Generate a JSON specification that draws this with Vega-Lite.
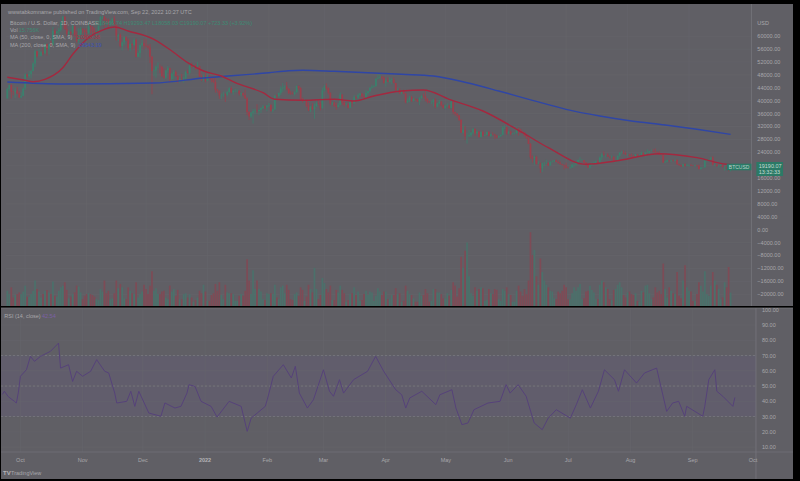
{
  "$schema": "https://vega.github.io/schema/vega-lite/v6.json",
  "background": "#000000",
  "padding": {"left": 0, "top": 3, "right": 8, "bottom": 5},
  "spacing": 0,
  "config": {
    "font": "Liberation Sans",
    "view": {"stroke": null, "fill": "#605f65"},
    "axis": {"disable": true}
  },
  "datasets": {
    "one": [{}],
    "pticks": [{"p":-20000},{"p":-16000},{"p":-12000},{"p":-8000},{"p":-4000},{"p":0},{"p":4000},{"p":8000},{"p":12000},{"p":16000},{"p":20000},{"p":24000},{"p":28000},{"p":32000},{"p":36000},{"p":40000},{"p":44000},{"p":48000},{"p":52000},{"p":56000},{"p":60000}],
    "rticks": [{"r":10},{"r":20},{"r":30},{"r":40},{"r":50},{"r":60},{"r":70},{"r":80},{"r":90},{"r":100}],
    "months": [{"m":"2021-10-01"},{"m":"2021-11-01"},{"m":"2021-12-01"},{"m":"2022-01-01"},{"m":"2022-02-01"},{"m":"2022-03-01"},{"m":"2022-04-01"},{"m":"2022-05-01"},{"m":"2022-06-01"},{"m":"2022-07-01"},{"m":"2022-08-01"},{"m":"2022-09-01"}],
    "monthLabels": [{"m":"2021-10-01"},{"m":"2021-11-01"},{"m":"2021-12-01"},{"m":"2022-02-01"},{"m":"2022-03-01"},{"m":"2022-04-01"},{"m":"2022-05-01"},{"m":"2022-06-01"},{"m":"2022-07-01"},{"m":"2022-08-01"},{"m":"2022-09-01"},{"m":"2022-10-01"}],
    "candles": [
      {"d":"2021-09-22","o":40700,"h":44000,"l":40600,"c":43600,"v":18},
      {"d":"2021-09-23","o":43600,"h":44900,"l":43100,"c":44900,"v":14},
      {"d":"2021-09-24","o":44900,"h":45100,"l":40700,"c":42800,"v":22},
      {"d":"2021-09-25","o":42800,"h":42900,"l":41700,"c":42700,"v":10},
      {"d":"2021-09-26","o":42700,"h":43900,"l":40800,"c":43200,"v":13},
      {"d":"2021-09-27","o":43200,"h":44300,"l":42100,"c":42200,"v":14},
      {"d":"2021-09-28","o":42200,"h":42800,"l":40900,"c":41000,"v":16},
      {"d":"2021-09-29","o":41000,"h":42600,"l":40800,"c":41500,"v":14},
      {"d":"2021-09-30","o":41500,"h":44100,"l":41400,"c":43800,"v":17},
      {"d":"2021-10-01","o":43800,"h":48500,"l":43300,"c":48100,"v":24},
      {"d":"2021-10-02","o":48100,"h":48300,"l":47100,"c":47600,"v":11},
      {"d":"2021-10-03","o":47600,"h":49200,"l":47100,"c":48200,"v":11},
      {"d":"2021-10-04","o":48200,"h":49500,"l":46900,"c":49200,"v":14},
      {"d":"2021-10-05","o":49200,"h":51900,"l":49100,"c":51500,"v":18},
      {"d":"2021-10-06","o":51500,"h":55800,"l":50400,"c":55300,"v":30},
      {"d":"2021-10-07","o":55300,"h":55400,"l":53400,"c":53800,"v":20},
      {"d":"2021-10-08","o":53800,"h":56100,"l":53700,"c":53900,"v":17},
      {"d":"2021-10-09","o":53900,"h":55400,"l":53700,"c":55000,"v":10},
      {"d":"2021-10-10","o":55000,"h":56500,"l":54100,"c":54700,"v":14},
      {"d":"2021-10-11","o":54700,"h":57800,"l":54400,"c":57500,"v":18},
      {"d":"2021-10-12","o":57500,"h":57700,"l":54000,"c":56000,"v":19},
      {"d":"2021-10-13","o":56000,"h":57600,"l":54300,"c":57400,"v":16},
      {"d":"2021-10-14","o":57400,"h":58500,"l":56900,"c":57300,"v":14},
      {"d":"2021-10-15","o":57300,"h":62900,"l":56900,"c":61700,"v":29},
      {"d":"2021-10-16","o":61700,"h":62300,"l":60200,"c":60900,"v":12},
      {"d":"2021-10-17","o":60900,"h":61700,"l":58900,"c":61500,"v":11},
      {"d":"2021-10-18","o":61500,"h":62600,"l":60100,"c":62000,"v":18},
      {"d":"2021-10-19","o":62000,"h":64500,"l":61400,"c":64300,"v":22},
      {"d":"2021-10-20","o":64300,"h":66300,"l":63600,"c":66000,"v":24},
      {"d":"2021-10-21","o":66000,"h":66300,"l":62000,"c":62200,"v":28},
      {"d":"2021-10-22","o":62200,"h":63700,"l":60000,"c":60700,"v":19},
      {"d":"2021-10-23","o":60700,"h":61700,"l":59800,"c":61300,"v":9},
      {"d":"2021-10-24","o":61300,"h":61500,"l":59600,"c":60900,"v":11},
      {"d":"2021-10-25","o":60900,"h":63700,"l":60700,"c":63100,"v":14},
      {"d":"2021-10-26","o":63100,"h":63300,"l":59800,"c":60300,"v":16},
      {"d":"2021-10-27","o":60300,"h":61500,"l":58000,"c":58500,"v":24},
      {"d":"2021-10-28","o":58500,"h":62500,"l":57800,"c":60600,"v":23},
      {"d":"2021-10-29","o":60600,"h":62900,"l":60200,"c":62300,"v":16},
      {"d":"2021-10-30","o":62300,"h":62400,"l":60800,"c":61900,"v":8},
      {"d":"2021-10-31","o":61900,"h":62400,"l":59500,"c":61300,"v":12},
      {"d":"2021-11-01","o":61300,"h":62400,"l":59400,"c":61000,"v":14},
      {"d":"2021-11-02","o":61000,"h":64300,"l":60700,"c":63200,"v":15},
      {"d":"2021-11-03","o":63200,"h":63500,"l":60900,"c":62900,"v":14},
      {"d":"2021-11-04","o":62900,"h":63100,"l":60700,"c":61400,"v":13},
      {"d":"2021-11-05","o":61400,"h":62600,"l":60800,"c":61000,"v":11},
      {"d":"2021-11-06","o":61000,"h":61600,"l":60100,"c":61500,"v":8},
      {"d":"2021-11-07","o":61500,"h":63300,"l":61400,"c":63300,"v":7},
      {"d":"2021-11-08","o":63300,"h":66300,"l":63100,"c":66000,"v":20},
      {"d":"2021-11-09","o":66000,"h":66300,"l":65300,"c":66000,"v":17},
      {"d":"2021-11-10","o":66000,"h":66300,"l":62800,"c":64900,"v":30},
      {"d":"2021-11-11","o":64900,"h":65600,"l":64200,"c":64800,"v":15},
      {"d":"2021-11-12","o":64800,"h":65400,"l":62300,"c":64200,"v":18},
      {"d":"2021-11-13","o":64200,"h":64900,"l":63300,"c":64400,"v":8},
      {"d":"2021-11-14","o":64400,"h":65500,"l":63600,"c":65500,"v":9},
      {"d":"2021-11-15","o":65500,"h":66300,"l":63400,"c":63600,"v":15},
      {"d":"2021-11-16","o":63600,"h":63600,"l":58600,"c":60100,"v":30},
      {"d":"2021-11-17","o":60100,"h":60800,"l":58400,"c":60400,"v":21},
      {"d":"2021-11-18","o":60400,"h":60900,"l":56500,"c":56900,"v":26},
      {"d":"2021-11-19","o":56900,"h":58300,"l":55600,"c":58100,"v":22},
      {"d":"2021-11-20","o":58100,"h":59800,"l":57400,"c":59700,"v":9},
      {"d":"2021-11-21","o":59700,"h":60000,"l":58500,"c":58700,"v":8},
      {"d":"2021-11-22","o":58700,"h":59300,"l":55600,"c":56300,"v":22},
      {"d":"2021-11-23","o":56300,"h":58000,"l":55300,"c":57600,"v":18},
      {"d":"2021-11-24","o":57600,"h":57800,"l":55900,"c":57200,"v":15},
      {"d":"2021-11-25","o":57200,"h":59400,"l":57000,"c":58900,"v":14},
      {"d":"2021-11-26","o":58900,"h":59200,"l":53500,"c":53600,"v":28},
      {"d":"2021-11-27","o":53600,"h":55300,"l":53600,"c":54800,"v":10},
      {"d":"2021-11-28","o":54800,"h":57400,"l":53300,"c":57300,"v":14},
      {"d":"2021-11-29","o":57300,"h":58900,"l":56700,"c":57800,"v":17},
      {"d":"2021-11-30","o":57800,"h":59200,"l":55900,"c":57000,"v":25},
      {"d":"2021-12-01","o":57000,"h":59100,"l":56500,"c":56900,"v":20},
      {"d":"2021-12-02","o":56900,"h":57400,"l":55800,"c":56500,"v":14},
      {"d":"2021-12-03","o":56500,"h":57600,"l":51700,"c":53600,"v":24},
      {"d":"2021-12-04","o":53600,"h":53900,"l":42000,"c":49200,"v":41},
      {"d":"2021-12-05","o":49200,"h":49700,"l":47700,"c":49400,"v":18},
      {"d":"2021-12-06","o":49400,"h":50900,"l":47100,"c":50600,"v":21},
      {"d":"2021-12-07","o":50600,"h":51900,"l":50000,"c":50600,"v":14},
      {"d":"2021-12-08","o":50600,"h":51200,"l":48600,"c":50500,"v":14},
      {"d":"2021-12-09","o":50500,"h":50800,"l":47300,"c":47600,"v":17},
      {"d":"2021-12-10","o":47600,"h":50100,"l":46900,"c":47100,"v":18},
      {"d":"2021-12-11","o":47100,"h":49500,"l":46700,"c":49400,"v":10},
      {"d":"2021-12-12","o":49400,"h":50800,"l":48600,"c":50100,"v":8},
      {"d":"2021-12-13","o":50100,"h":50200,"l":45700,"c":46700,"v":24},
      {"d":"2021-12-14","o":46700,"h":48700,"l":46300,"c":48400,"v":17},
      {"d":"2021-12-15","o":48400,"h":49500,"l":46600,"c":48900,"v":20},
      {"d":"2021-12-16","o":48900,"h":49400,"l":47500,"c":47600,"v":12},
      {"d":"2021-12-17","o":47600,"h":47900,"l":45500,"c":46200,"v":19},
      {"d":"2021-12-18","o":46200,"h":47300,"l":45600,"c":46800,"v":8},
      {"d":"2021-12-19","o":46800,"h":48300,"l":46400,"c":46700,"v":8},
      {"d":"2021-12-20","o":46700,"h":47500,"l":45600,"c":46900,"v":14},
      {"d":"2021-12-21","o":46900,"h":49300,"l":46700,"c":49000,"v":15},
      {"d":"2021-12-22","o":49000,"h":49600,"l":48500,"c":48600,"v":10},
      {"d":"2021-12-23","o":48600,"h":51400,"l":48100,"c":50800,"v":14},
      {"d":"2021-12-24","o":50800,"h":51800,"l":50200,"c":50400,"v":10},
      {"d":"2021-12-25","o":50400,"h":51200,"l":50200,"c":50800,"v":5},
      {"d":"2021-12-26","o":50800,"h":51300,"l":49500,"c":50600,"v":7},
      {"d":"2021-12-27","o":50600,"h":52100,"l":50500,"c":50700,"v":10},
      {"d":"2021-12-28","o":50700,"h":50700,"l":47400,"c":47500,"v":18},
      {"d":"2021-12-29","o":47500,"h":48100,"l":46100,"c":46500,"v":15},
      {"d":"2021-12-30","o":46500,"h":47900,"l":46000,"c":47100,"v":25},
      {"d":"2021-12-31","o":47100,"h":48500,"l":45700,"c":46200,"v":17},
      {"d":"2022-01-01","o":46200,"h":47900,"l":46200,"c":47700,"v":6},
      {"d":"2022-01-02","o":47700,"h":47900,"l":46700,"c":47300,"v":6},
      {"d":"2022-01-03","o":47300,"h":47500,"l":45700,"c":46400,"v":13},
      {"d":"2022-01-04","o":46400,"h":47500,"l":45500,"c":45800,"v":15},
      {"d":"2022-01-05","o":45800,"h":47100,"l":42500,"c":43400,"v":26},
      {"d":"2022-01-06","o":43400,"h":43700,"l":42500,"c":43100,"v":18},
      {"d":"2022-01-07","o":43100,"h":43100,"l":40600,"c":41600,"v":28},
      {"d":"2022-01-08","o":41600,"h":42300,"l":40500,"c":41700,"v":13},
      {"d":"2022-01-09","o":41700,"h":42800,"l":41200,"c":41900,"v":8},
      {"d":"2022-01-10","o":41900,"h":42200,"l":39600,"c":41800,"v":25},
      {"d":"2022-01-11","o":41800,"h":43000,"l":41300,"c":42700,"v":16},
      {"d":"2022-01-12","o":42700,"h":44200,"l":42500,"c":43900,"v":15},
      {"d":"2022-01-13","o":43900,"h":44400,"l":42300,"c":42600,"v":15},
      {"d":"2022-01-14","o":42600,"h":43400,"l":41800,"c":43100,"v":14},
      {"d":"2022-01-15","o":43100,"h":43700,"l":42600,"c":43100,"v":6},
      {"d":"2022-01-16","o":43100,"h":43500,"l":42600,"c":43100,"v":6},
      {"d":"2022-01-17","o":43100,"h":43200,"l":41600,"c":42200,"v":12},
      {"d":"2022-01-18","o":42200,"h":42600,"l":41300,"c":42400,"v":14},
      {"d":"2022-01-19","o":42400,"h":42500,"l":41300,"c":41700,"v":12},
      {"d":"2022-01-20","o":41700,"h":43500,"l":40600,"c":40700,"v":18},
      {"d":"2022-01-21","o":40700,"h":41100,"l":35500,"c":36500,"v":55},
      {"d":"2022-01-22","o":36500,"h":36800,"l":34000,"c":35100,"v":30},
      {"d":"2022-01-23","o":35100,"h":36500,"l":34600,"c":36300,"v":14},
      {"d":"2022-01-24","o":36300,"h":37500,"l":32900,"c":36700,"v":42},
      {"d":"2022-01-25","o":36700,"h":37500,"l":35700,"c":36900,"v":20},
      {"d":"2022-01-26","o":36900,"h":38900,"l":36300,"c":36800,"v":30},
      {"d":"2022-01-27","o":36800,"h":37200,"l":35500,"c":37200,"v":20},
      {"d":"2022-01-28","o":37200,"h":38000,"l":36200,"c":37700,"v":17},
      {"d":"2022-01-29","o":37700,"h":38700,"l":37400,"c":38200,"v":8},
      {"d":"2022-01-30","o":38200,"h":38400,"l":37400,"c":37900,"v":7},
      {"d":"2022-01-31","o":37900,"h":38700,"l":36700,"c":38500,"v":15},
      {"d":"2022-02-01","o":38500,"h":39300,"l":38100,"c":38700,"v":14},
      {"d":"2022-02-02","o":38700,"h":38900,"l":36600,"c":36900,"v":15},
      {"d":"2022-02-03","o":36900,"h":37400,"l":36300,"c":37300,"v":14},
      {"d":"2022-02-04","o":37300,"h":41700,"l":37100,"c":41600,"v":25},
      {"d":"2022-02-05","o":41600,"h":41900,"l":40900,"c":41400,"v":10},
      {"d":"2022-02-06","o":41400,"h":42600,"l":41100,"c":42400,"v":8},
      {"d":"2022-02-07","o":42400,"h":44500,"l":41700,"c":43800,"v":22},
      {"d":"2022-02-08","o":43800,"h":45500,"l":42700,"c":44100,"v":24},
      {"d":"2022-02-09","o":44100,"h":44800,"l":43200,"c":44400,"v":15},
      {"d":"2022-02-10","o":44400,"h":45800,"l":43200,"c":43600,"v":25},
      {"d":"2022-02-11","o":43600,"h":43900,"l":42000,"c":42400,"v":19},
      {"d":"2022-02-12","o":42400,"h":43000,"l":41800,"c":42200,"v":8},
      {"d":"2022-02-13","o":42200,"h":42800,"l":41900,"c":42100,"v":7},
      {"d":"2022-02-14","o":42100,"h":42900,"l":41600,"c":42600,"v":14},
      {"d":"2022-02-15","o":42600,"h":44700,"l":42500,"c":44600,"v":16},
      {"d":"2022-02-16","o":44600,"h":44600,"l":43300,"c":43900,"v":12},
      {"d":"2022-02-17","o":43900,"h":44200,"l":40100,"c":40600,"v":22},
      {"d":"2022-02-18","o":40600,"h":40900,"l":39500,"c":40000,"v":19},
      {"d":"2022-02-19","o":40000,"h":40500,"l":39700,"c":40100,"v":6},
      {"d":"2022-02-20","o":40100,"h":40200,"l":38000,"c":38400,"v":11},
      {"d":"2022-02-21","o":38400,"h":39500,"l":36800,"c":37000,"v":25},
      {"d":"2022-02-22","o":37000,"h":38400,"l":36400,"c":38200,"v":20},
      {"d":"2022-02-23","o":38200,"h":39200,"l":37100,"c":37300,"v":16},
      {"d":"2022-02-24","o":37300,"h":39100,"l":34400,"c":38300,"v":45},
      {"d":"2022-02-25","o":38300,"h":39700,"l":38000,"c":39200,"v":20},
      {"d":"2022-02-26","o":39200,"h":40100,"l":38600,"c":39100,"v":8},
      {"d":"2022-02-27","o":39100,"h":39800,"l":37000,"c":37700,"v":13},
      {"d":"2022-02-28","o":37700,"h":44000,"l":37500,"c":43200,"v":33},
      {"d":"2022-03-01","o":43200,"h":44900,"l":42800,"c":44400,"v":27},
      {"d":"2022-03-02","o":44400,"h":45400,"l":43300,"c":43900,"v":20},
      {"d":"2022-03-03","o":43900,"h":44100,"l":41900,"c":42500,"v":16},
      {"d":"2022-03-04","o":42500,"h":42500,"l":38600,"c":39100,"v":24},
      {"d":"2022-03-05","o":39100,"h":39600,"l":38600,"c":39400,"v":7},
      {"d":"2022-03-06","o":39400,"h":39700,"l":38100,"c":38400,"v":7},
      {"d":"2022-03-07","o":38400,"h":39400,"l":37200,"c":38000,"v":19},
      {"d":"2022-03-08","o":38000,"h":39300,"l":37900,"c":38700,"v":16},
      {"d":"2022-03-09","o":38700,"h":42600,"l":38700,"c":41900,"v":24},
      {"d":"2022-03-10","o":41900,"h":42000,"l":38600,"c":39400,"v":19},
      {"d":"2022-03-11","o":39400,"h":40300,"l":38200,"c":38700,"v":15},
      {"d":"2022-03-12","o":38700,"h":39300,"l":38700,"c":38800,"v":5},
      {"d":"2022-03-13","o":38800,"h":39300,"l":37600,"c":37800,"v":7},
      {"d":"2022-03-14","o":37800,"h":39900,"l":37600,"c":39700,"v":14},
      {"d":"2022-03-15","o":39700,"h":39900,"l":38100,"c":39300,"v":15},
      {"d":"2022-03-16","o":39300,"h":41700,"l":38900,"c":41100,"v":22},
      {"d":"2022-03-17","o":41100,"h":41400,"l":40500,"c":40900,"v":13},
      {"d":"2022-03-18","o":40900,"h":42300,"l":40200,"c":41800,"v":17},
      {"d":"2022-03-19","o":41800,"h":42400,"l":41500,"c":42200,"v":6},
      {"d":"2022-03-20","o":42200,"h":42300,"l":40900,"c":41300,"v":7},
      {"d":"2022-03-21","o":41300,"h":42000,"l":40500,"c":41000,"v":14},
      {"d":"2022-03-22","o":41000,"h":43300,"l":40900,"c":42400,"v":18},
      {"d":"2022-03-23","o":42400,"h":43000,"l":41800,"c":42900,"v":13},
      {"d":"2022-03-24","o":42900,"h":44200,"l":42600,"c":44000,"v":17},
      {"d":"2022-03-25","o":44000,"h":45000,"l":43700,"c":44300,"v":16},
      {"d":"2022-03-26","o":44300,"h":44800,"l":44100,"c":44500,"v":6},
      {"d":"2022-03-27","o":44500,"h":46900,"l":44400,"c":46800,"v":12},
      {"d":"2022-03-28","o":46800,"h":48200,"l":46700,"c":47100,"v":21},
      {"d":"2022-03-29","o":47100,"h":48100,"l":46900,"c":47400,"v":17},
      {"d":"2022-03-30","o":47400,"h":47700,"l":46600,"c":47100,"v":13},
      {"d":"2022-03-31","o":47100,"h":47600,"l":45300,"c":45500,"v":17},
      {"d":"2022-04-01","o":45500,"h":46700,"l":44300,"c":46300,"v":17},
      {"d":"2022-04-02","o":46300,"h":47200,"l":45800,"c":45800,"v":8},
      {"d":"2022-04-03","o":45800,"h":47400,"l":45600,"c":46400,"v":8},
      {"d":"2022-04-04","o":46400,"h":46900,"l":45100,"c":46600,"v":13},
      {"d":"2022-04-05","o":46600,"h":47200,"l":45400,"c":45500,"v":13},
      {"d":"2022-04-06","o":45500,"h":45500,"l":43100,"c":43200,"v":21},
      {"d":"2022-04-07","o":43200,"h":43900,"l":42800,"c":43400,"v":14},
      {"d":"2022-04-08","o":43400,"h":43900,"l":42100,"c":42300,"v":15},
      {"d":"2022-04-09","o":42300,"h":42800,"l":42100,"c":42800,"v":5},
      {"d":"2022-04-10","o":42800,"h":43400,"l":42100,"c":42200,"v":6},
      {"d":"2022-04-11","o":42200,"h":42400,"l":39200,"c":39500,"v":24},
      {"d":"2022-04-12","o":39500,"h":40700,"l":39300,"c":40100,"v":18},
      {"d":"2022-04-13","o":40100,"h":41500,"l":39600,"c":41100,"v":14},
      {"d":"2022-04-14","o":41100,"h":41500,"l":39600,"c":39900,"v":13},
      {"d":"2022-04-15","o":39900,"h":40800,"l":39800,"c":40500,"v":9},
      {"d":"2022-04-16","o":40500,"h":40700,"l":40000,"c":40400,"v":5},
      {"d":"2022-04-17","o":40400,"h":40600,"l":39600,"c":39700,"v":5},
      {"d":"2022-04-18","o":39700,"h":41100,"l":38600,"c":40800,"v":16},
      {"d":"2022-04-19","o":40800,"h":41700,"l":40600,"c":41500,"v":12},
      {"d":"2022-04-20","o":41500,"h":42200,"l":40900,"c":41400,"v":13},
      {"d":"2022-04-21","o":41400,"h":42900,"l":39800,"c":40500,"v":20},
      {"d":"2022-04-22","o":40500,"h":40800,"l":39200,"c":39700,"v":15},
      {"d":"2022-04-23","o":39700,"h":39900,"l":39300,"c":39500,"v":5},
      {"d":"2022-04-24","o":39500,"h":39900,"l":39000,"c":39500,"v":6},
      {"d":"2022-04-25","o":39500,"h":40600,"l":38200,"c":40400,"v":20},
      {"d":"2022-04-26","o":40400,"h":40800,"l":37700,"c":38100,"v":20},
      {"d":"2022-04-27","o":38100,"h":39400,"l":37900,"c":39200,"v":16},
      {"d":"2022-04-28","o":39200,"h":40300,"l":38900,"c":39700,"v":16},
      {"d":"2022-04-29","o":39700,"h":39900,"l":38200,"c":38600,"v":14},
      {"d":"2022-04-30","o":38600,"h":38800,"l":37600,"c":37700,"v":9},
      {"d":"2022-05-01","o":37700,"h":38700,"l":37400,"c":38500,"v":9},
      {"d":"2022-05-02","o":38500,"h":39200,"l":38100,"c":38500,"v":15},
      {"d":"2022-05-03","o":38500,"h":38600,"l":37500,"c":37700,"v":12},
      {"d":"2022-05-04","o":37700,"h":40000,"l":37700,"c":39700,"v":19},
      {"d":"2022-05-05","o":39700,"h":39800,"l":35800,"c":36500,"v":28},
      {"d":"2022-05-06","o":36500,"h":36600,"l":35300,"c":36000,"v":24},
      {"d":"2022-05-07","o":36000,"h":36100,"l":34800,"c":35500,"v":11},
      {"d":"2022-05-08","o":35500,"h":35500,"l":33700,"c":34000,"v":21},
      {"d":"2022-05-09","o":34000,"h":34300,"l":30000,"c":30100,"v":58},
      {"d":"2022-05-10","o":30100,"h":32700,"l":29800,"c":31000,"v":45},
      {"d":"2022-05-11","o":31000,"h":32100,"l":27800,"c":29000,"v":65},
      {"d":"2022-05-12","o":29000,"h":30100,"l":26700,"c":29000,"v":75},
      {"d":"2022-05-13","o":29000,"h":30900,"l":28700,"c":29300,"v":35},
      {"d":"2022-05-14","o":29300,"h":30300,"l":28700,"c":30100,"v":15},
      {"d":"2022-05-15","o":30100,"h":31400,"l":29500,"c":31300,"v":12},
      {"d":"2022-05-16","o":31300,"h":31300,"l":29100,"c":29900,"v":22},
      {"d":"2022-05-17","o":29900,"h":30700,"l":29500,"c":30400,"v":18},
      {"d":"2022-05-18","o":30400,"h":30600,"l":28700,"c":28700,"v":20},
      {"d":"2022-05-19","o":28700,"h":30500,"l":28700,"c":30300,"v":22},
      {"d":"2022-05-20","o":30300,"h":30700,"l":28800,"c":29200,"v":21},
      {"d":"2022-05-21","o":29200,"h":29600,"l":29000,"c":29400,"v":6},
      {"d":"2022-05-22","o":29400,"h":30400,"l":29300,"c":30300,"v":7},
      {"d":"2022-05-23","o":30300,"h":30600,"l":28900,"c":29100,"v":20},
      {"d":"2022-05-24","o":29100,"h":29800,"l":28700,"c":29600,"v":15},
      {"d":"2022-05-25","o":29600,"h":30200,"l":29300,"c":29500,"v":14},
      {"d":"2022-05-26","o":29500,"h":29800,"l":28100,"c":29200,"v":20},
      {"d":"2022-05-27","o":29200,"h":29400,"l":28300,"c":28600,"v":19},
      {"d":"2022-05-28","o":28600,"h":29200,"l":28500,"c":29000,"v":8},
      {"d":"2022-05-29","o":29000,"h":29500,"l":28800,"c":29400,"v":6},
      {"d":"2022-05-30","o":29400,"h":32200,"l":29300,"c":31700,"v":20},
      {"d":"2022-05-31","o":31700,"h":32400,"l":31200,"c":31800,"v":18},
      {"d":"2022-06-01","o":31800,"h":31900,"l":29400,"c":29800,"v":22},
      {"d":"2022-06-02","o":29800,"h":30700,"l":29600,"c":30400,"v":14},
      {"d":"2022-06-03","o":30400,"h":30700,"l":29300,"c":29700,"v":13},
      {"d":"2022-06-04","o":29700,"h":29900,"l":29500,"c":29900,"v":5},
      {"d":"2022-06-05","o":29900,"h":30200,"l":29500,"c":29900,"v":5},
      {"d":"2022-06-06","o":29900,"h":31700,"l":29900,"c":31400,"v":18},
      {"d":"2022-06-07","o":31400,"h":31600,"l":29200,"c":31100,"v":24},
      {"d":"2022-06-08","o":31100,"h":31300,"l":29900,"c":30200,"v":17},
      {"d":"2022-06-09","o":30200,"h":30700,"l":30000,"c":30100,"v":12},
      {"d":"2022-06-10","o":30100,"h":30300,"l":28900,"c":29100,"v":20},
      {"d":"2022-06-11","o":29100,"h":29400,"l":28200,"c":28400,"v":14},
      {"d":"2022-06-12","o":28400,"h":28600,"l":26600,"c":26600,"v":30},
      {"d":"2022-06-13","o":26600,"h":26900,"l":21900,"c":22500,"v":87},
      {"d":"2022-06-14","o":22500,"h":23000,"l":20800,"c":22100,"v":60},
      {"d":"2022-06-15","o":22100,"h":22800,"l":20100,"c":22600,"v":66},
      {"d":"2022-06-16","o":22600,"h":22900,"l":20200,"c":20400,"v":35},
      {"d":"2022-06-17","o":20400,"h":21300,"l":20300,"c":20500,"v":25},
      {"d":"2022-06-18","o":20500,"h":20800,"l":17600,"c":19000,"v":56},
      {"d":"2022-06-19","o":19000,"h":20800,"l":17900,"c":20600,"v":40},
      {"d":"2022-06-20","o":20600,"h":21000,"l":19700,"c":20600,"v":30},
      {"d":"2022-06-21","o":20600,"h":21700,"l":20400,"c":20700,"v":25},
      {"d":"2022-06-22","o":20700,"h":20900,"l":19800,"c":19900,"v":22},
      {"d":"2022-06-23","o":19900,"h":21200,"l":19900,"c":21100,"v":18},
      {"d":"2022-06-24","o":21100,"h":21500,"l":20800,"c":21200,"v":17},
      {"d":"2022-06-25","o":21200,"h":21600,"l":20900,"c":21500,"v":9},
      {"d":"2022-06-26","o":21500,"h":21800,"l":21000,"c":21000,"v":8},
      {"d":"2022-06-27","o":21000,"h":21500,"l":20500,"c":20700,"v":17},
      {"d":"2022-06-28","o":20700,"h":21200,"l":20200,"c":20300,"v":15},
      {"d":"2022-06-29","o":20300,"h":20400,"l":19900,"c":20100,"v":18},
      {"d":"2022-06-30","o":20100,"h":20200,"l":18700,"c":19900,"v":25},
      {"d":"2022-07-01","o":19900,"h":20800,"l":19000,"c":19300,"v":22},
      {"d":"2022-07-02","o":19300,"h":19400,"l":19000,"c":19200,"v":8},
      {"d":"2022-07-03","o":19200,"h":19600,"l":18800,"c":19300,"v":8},
      {"d":"2022-07-04","o":19300,"h":20300,"l":19100,"c":20200,"v":15},
      {"d":"2022-07-05","o":20200,"h":20700,"l":19300,"c":20200,"v":22},
      {"d":"2022-07-06","o":20200,"h":20700,"l":19800,"c":20600,"v":18},
      {"d":"2022-07-07","o":20600,"h":21800,"l":20300,"c":21600,"v":22},
      {"d":"2022-07-08","o":21600,"h":22500,"l":21200,"c":21600,"v":26},
      {"d":"2022-07-09","o":21600,"h":21900,"l":21400,"c":21600,"v":8},
      {"d":"2022-07-10","o":21600,"h":21600,"l":20700,"c":20800,"v":9},
      {"d":"2022-07-11","o":20800,"h":20900,"l":19900,"c":20000,"v":17},
      {"d":"2022-07-12","o":20000,"h":20100,"l":19200,"c":19300,"v":18},
      {"d":"2022-07-13","o":19300,"h":20300,"l":18900,"c":20200,"v":24},
      {"d":"2022-07-14","o":20200,"h":20900,"l":19700,"c":20600,"v":19},
      {"d":"2022-07-15","o":20600,"h":21200,"l":20400,"c":20800,"v":16},
      {"d":"2022-07-16","o":20800,"h":21500,"l":20500,"c":21200,"v":8},
      {"d":"2022-07-17","o":21200,"h":21600,"l":20800,"c":20800,"v":8},
      {"d":"2022-07-18","o":20800,"h":22700,"l":20800,"c":22400,"v":25},
      {"d":"2022-07-19","o":22400,"h":23800,"l":21600,"c":23400,"v":30},
      {"d":"2022-07-20","o":23400,"h":24300,"l":23000,"c":23200,"v":28},
      {"d":"2022-07-21","o":23200,"h":23400,"l":22300,"c":23200,"v":22},
      {"d":"2022-07-22","o":23200,"h":23700,"l":22600,"c":22700,"v":20},
      {"d":"2022-07-23","o":22700,"h":22800,"l":22000,"c":22500,"v":8},
      {"d":"2022-07-24","o":22500,"h":23000,"l":22300,"c":22600,"v":7},
      {"d":"2022-07-25","o":22600,"h":22700,"l":21300,"c":21300,"v":19},
      {"d":"2022-07-26","o":21300,"h":21400,"l":20800,"c":21300,"v":20},
      {"d":"2022-07-27","o":21300,"h":23100,"l":21100,"c":22900,"v":25},
      {"d":"2022-07-28","o":22900,"h":24100,"l":22600,"c":23800,"v":28},
      {"d":"2022-07-29","o":23800,"h":24400,"l":23500,"c":23800,"v":22},
      {"d":"2022-07-30","o":23800,"h":24600,"l":23600,"c":23600,"v":13},
      {"d":"2022-07-31","o":23600,"h":24200,"l":23300,"c":23300,"v":10},
      {"d":"2022-08-01","o":23300,"h":23500,"l":22900,"c":23300,"v":16},
      {"d":"2022-08-02","o":23300,"h":23400,"l":22700,"c":22900,"v":17},
      {"d":"2022-08-03","o":22900,"h":23600,"l":22700,"c":22800,"v":14},
      {"d":"2022-08-04","o":22800,"h":23200,"l":22500,"c":22600,"v":13},
      {"d":"2022-08-05","o":22600,"h":23400,"l":22600,"c":23300,"v":15},
      {"d":"2022-08-06","o":23300,"h":23400,"l":22900,"c":23000,"v":6},
      {"d":"2022-08-07","o":23000,"h":23400,"l":22900,"c":23200,"v":5},
      {"d":"2022-08-08","o":23200,"h":24200,"l":23100,"c":23800,"v":18},
      {"d":"2022-08-09","o":23800,"h":23900,"l":22900,"c":23200,"v":16},
      {"d":"2022-08-10","o":23200,"h":24200,"l":22700,"c":23900,"v":24},
      {"d":"2022-08-11","o":23900,"h":24900,"l":23900,"c":23900,"v":25},
      {"d":"2022-08-12","o":23900,"h":24400,"l":23600,"c":24400,"v":15},
      {"d":"2022-08-13","o":24400,"h":24900,"l":24300,"c":24400,"v":8},
      {"d":"2022-08-14","o":24400,"h":25000,"l":24000,"c":24300,"v":10},
      {"d":"2022-08-15","o":24300,"h":25200,"l":23800,"c":24100,"v":22},
      {"d":"2022-08-16","o":24100,"h":24200,"l":23700,"c":23900,"v":16},
      {"d":"2022-08-17","o":23900,"h":24400,"l":23200,"c":23300,"v":18},
      {"d":"2022-08-18","o":23300,"h":23600,"l":23100,"c":23200,"v":14},
      {"d":"2022-08-19","o":23200,"h":23200,"l":20800,"c":20800,"v":50},
      {"d":"2022-08-20","o":20800,"h":21400,"l":20800,"c":21100,"v":20},
      {"d":"2022-08-21","o":21100,"h":21700,"l":21000,"c":21500,"v":10},
      {"d":"2022-08-22","o":21500,"h":21500,"l":20900,"c":21400,"v":22},
      {"d":"2022-08-23","o":21400,"h":21600,"l":20900,"c":21500,"v":18},
      {"d":"2022-08-24","o":21500,"h":21800,"l":21200,"c":21400,"v":15},
      {"d":"2022-08-25","o":21400,"h":21800,"l":21300,"c":21600,"v":14},
      {"d":"2022-08-26","o":21600,"h":21900,"l":20100,"c":20300,"v":40},
      {"d":"2022-08-27","o":20300,"h":20400,"l":19900,"c":20000,"v":12},
      {"d":"2022-08-28","o":20000,"h":20100,"l":19600,"c":19600,"v":9},
      {"d":"2022-08-29","o":19600,"h":20400,"l":19600,"c":20300,"v":30},
      {"d":"2022-08-30","o":20300,"h":20600,"l":19600,"c":19800,"v":48},
      {"d":"2022-08-31","o":19800,"h":20500,"l":19800,"c":20000,"v":22},
      {"d":"2022-09-01","o":20000,"h":20200,"l":19600,"c":20100,"v":18},
      {"d":"2022-09-02","o":20100,"h":20400,"l":19800,"c":19900,"v":17},
      {"d":"2022-09-03","o":19900,"h":20000,"l":19700,"c":19800,"v":6},
      {"d":"2022-09-04","o":19800,"h":20000,"l":19600,"c":20000,"v":6},
      {"d":"2022-09-05","o":20000,"h":20000,"l":19600,"c":19800,"v":14},
      {"d":"2022-09-06","o":19800,"h":20200,"l":18700,"c":18800,"v":28},
      {"d":"2022-09-07","o":18800,"h":19400,"l":18600,"c":19300,"v":24},
      {"d":"2022-09-08","o":19300,"h":19400,"l":19000,"c":19300,"v":17},
      {"d":"2022-09-09","o":19300,"h":21500,"l":19300,"c":21400,"v":41},
      {"d":"2022-09-10","o":21400,"h":21800,"l":21100,"c":21600,"v":14},
      {"d":"2022-09-11","o":21600,"h":21900,"l":21400,"c":21800,"v":12},
      {"d":"2022-09-12","o":21800,"h":22500,"l":21600,"c":22400,"v":24},
      {"d":"2022-09-13","o":22400,"h":22800,"l":19900,"c":20200,"v":40},
      {"d":"2022-09-14","o":20200,"h":20500,"l":19700,"c":20200,"v":30},
      {"d":"2022-09-15","o":20200,"h":20300,"l":19600,"c":19700,"v":25},
      {"d":"2022-09-16","o":19700,"h":19900,"l":19300,"c":19800,"v":20},
      {"d":"2022-09-17","o":19800,"h":20200,"l":19700,"c":20100,"v":8},
      {"d":"2022-09-18","o":20100,"h":20100,"l":19400,"c":19400,"v":10},
      {"d":"2022-09-19","o":19400,"h":19700,"l":18300,"c":19500,"v":28},
      {"d":"2022-09-20","o":19500,"h":19600,"l":18800,"c":18900,"v":22},
      {"d":"2022-09-21","o":18900,"h":19900,"l":18100,"c":18466.74,"v":46},
      {"d":"2022-09-22","o":18466.74,"h":19293.47,"l":18058.03,"c":19190.07,"v":15.756}
    ],
    "ma50": [
      {"d":"2021-09-22","v":47290},{"d":"2021-10-01","v":46330},{"d":"2021-10-05","v":45890},
      {"d":"2021-10-11","v":46640},{"d":"2021-10-20","v":50230},{"d":"2021-10-25","v":54390},
      {"d":"2021-11-02","v":59540},{"d":"2021-11-10","v":62140},{"d":"2021-11-15","v":62850},
      {"d":"2021-11-22","v":61610},{"d":"2021-12-05","v":59040},{"d":"2021-12-14","v":55410},
      {"d":"2021-12-22","v":51780},{"d":"2021-12-30","v":49210},{"d":"2022-01-08","v":47660},
      {"d":"2022-01-15","v":45580},{"d":"2022-01-29","v":42480},{"d":"2022-02-04","v":40430},
      {"d":"2022-02-18","v":40120},{"d":"2022-03-06","v":40430},{"d":"2022-03-16","v":39910},
      {"d":"2022-03-26","v":41460},{"d":"2022-04-09","v":43010},{"d":"2022-04-20","v":43320},
      {"d":"2022-05-03","v":40430},{"d":"2022-05-20","v":36810},{"d":"2022-06-09","v":30080},
      {"d":"2022-06-22","v":25430},{"d":"2022-07-11","v":20280},{"d":"2022-07-26","v":21300},
      {"d":"2022-08-17","v":23570},{"d":"2022-09-05","v":22330},{"d":"2022-09-20","v":20280},
      {"d":"2022-09-22","v":20200.38}
    ],
    "ma200": [
      {"d":"2021-09-22","v":45790},{"d":"2021-10-21","v":45180},{"d":"2021-12-05","v":45490},
      {"d":"2021-12-30","v":47040},{"d":"2022-02-01","v":48680},{"d":"2022-02-11","v":49300},
      {"d":"2022-02-18","v":49430},{"d":"2022-03-06","v":49120},{"d":"2022-04-09","v":48190},
      {"d":"2022-04-25","v":47660},{"d":"2022-05-12","v":45580},{"d":"2022-05-28","v":43010},
      {"d":"2022-06-14","v":40120},{"d":"2022-07-01","v":37330},{"d":"2022-07-18","v":35260},
      {"d":"2022-08-03","v":33710},{"d":"2022-08-20","v":32470},{"d":"2022-09-05","v":31130},
      {"d":"2022-09-22","v":29543.19}
    ],
    "rsi": [
      {"d":"2021-09-22","r":44.5},{"d":"2021-09-23","r":46.6},{"d":"2021-09-25","r":43},
      {"d":"2021-09-28","r":40},{"d":"2021-09-29","r":38.9},{"d":"2021-09-30","r":46},
      {"d":"2021-10-01","r":56.4},{"d":"2021-10-04","r":60.7},{"d":"2021-10-06","r":69.5},
      {"d":"2021-10-08","r":66.2},{"d":"2021-10-11","r":69.5},{"d":"2021-10-16","r":72.8},
      {"d":"2021-10-20","r":78.2},{"d":"2021-10-21","r":61.8},{"d":"2021-10-25","r":64},
      {"d":"2021-10-27","r":53},{"d":"2021-10-29","r":59.7},{"d":"2021-11-01","r":56.4},
      {"d":"2021-11-05","r":59.7},{"d":"2021-11-08","r":67.3},{"d":"2021-11-12","r":59.7},
      {"d":"2021-11-14","r":58.6},{"d":"2021-11-17","r":45.4},{"d":"2021-11-18","r":38.9},
      {"d":"2021-11-23","r":40},{"d":"2021-11-25","r":46.6},{"d":"2021-11-27","r":36.7},
      {"d":"2021-11-29","r":46.6},{"d":"2021-12-04","r":32.3},{"d":"2021-12-10","r":30.2},
      {"d":"2021-12-12","r":38.9},{"d":"2021-12-17","r":35.6},{"d":"2021-12-20","r":36.7},
      {"d":"2021-12-23","r":45.4},{"d":"2021-12-24","r":50.9},{"d":"2021-12-27","r":49.8},
      {"d":"2021-12-30","r":40},{"d":"2022-01-04","r":36.7},{"d":"2022-01-07","r":29.7},
      {"d":"2022-01-13","r":40},{"d":"2022-01-19","r":36.7},{"d":"2022-01-22","r":20.3},
      {"d":"2022-01-24","r":29},{"d":"2022-01-27","r":32.3},{"d":"2022-01-31","r":36.7},
      {"d":"2022-02-01","r":41},{"d":"2022-02-04","r":56.4},{"d":"2022-02-09","r":64},
      {"d":"2022-02-13","r":55.3},{"d":"2022-02-15","r":63},{"d":"2022-02-17","r":45.4},
      {"d":"2022-02-21","r":35.6},{"d":"2022-02-24","r":41},{"d":"2022-03-01","r":60.7},
      {"d":"2022-03-04","r":46.6},{"d":"2022-03-06","r":43.3},{"d":"2022-03-09","r":54.2},
      {"d":"2022-03-11","r":45.4},{"d":"2022-03-16","r":54.2},{"d":"2022-03-23","r":59.7},
      {"d":"2022-03-27","r":69.5},{"d":"2022-03-31","r":59.7},{"d":"2022-04-06","r":47.6},
      {"d":"2022-04-09","r":44.3},{"d":"2022-04-11","r":35.6},{"d":"2022-04-13","r":42.2},
      {"d":"2022-04-19","r":46.6},{"d":"2022-04-26","r":37.8},{"d":"2022-04-28","r":44.3},
      {"d":"2022-05-04","r":47.6},{"d":"2022-05-06","r":35.6},{"d":"2022-05-09","r":24.7},
      {"d":"2022-05-12","r":25.8},{"d":"2022-05-15","r":34.5},{"d":"2022-05-22","r":38.9},
      {"d":"2022-05-28","r":40},{"d":"2022-05-31","r":50.9},{"d":"2022-06-02","r":45.4},
      {"d":"2022-06-06","r":50.9},{"d":"2022-06-10","r":43.3},{"d":"2022-06-12","r":34.5},
      {"d":"2022-06-14","r":25.8},{"d":"2022-06-18","r":21.4},{"d":"2022-06-21","r":29},
      {"d":"2022-06-25","r":34.5},{"d":"2022-07-02","r":29},{"d":"2022-07-05","r":37.8},
      {"d":"2022-07-08","r":47.6},{"d":"2022-07-12","r":35.6},{"d":"2022-07-16","r":46.6},
      {"d":"2022-07-19","r":60.7},{"d":"2022-07-24","r":54.2},{"d":"2022-07-26","r":46.6},
      {"d":"2022-07-29","r":60.7},{"d":"2022-08-04","r":52},{"d":"2022-08-08","r":58.6},
      {"d":"2022-08-14","r":61.8},{"d":"2022-08-19","r":33.4},{"d":"2022-08-22","r":38.9},
      {"d":"2022-08-25","r":40},{"d":"2022-08-28","r":30.2},{"d":"2022-08-29","r":36.7},
      {"d":"2022-09-06","r":30.2},{"d":"2022-09-07","r":36.7},{"d":"2022-09-09","r":54.2},
      {"d":"2022-09-12","r":60.7},{"d":"2022-09-13","r":46.6},{"d":"2022-09-16","r":43.3},
      {"d":"2022-09-21","r":36.7},{"d":"2022-09-22","r":42.54}
    ],
    "levels": [{"lvl":70},{"lvl":50},{"lvl":30}]
  },
  "vconcat": [
    {
      "width": 792,
      "height": 302,
      "resolve": {"scale": {"y": "independent"}},
      "layer": [
        {
          "layer": [
            {
              "data": {"name": "pticks"},
              "mark": {"type": "rule", "color": "#67666c", "strokeWidth": 0.5},
              "encoding": {
                "x": {"datum": {"year":2021,"month":9,"date":21,"hours":8,"utc":true}, "type": "temporal",
                      "scale": {"type": "utc", "domain": [{"year":2021,"month":9,"date":21,"hours":8,"utc":true},{"year":2022,"month":10,"date":20,"hours":23,"utc":true}]}},
                "x2": {"datum": {"year":2022,"month":10,"date":2,"hours":12,"utc":true}},
                "y": {"field": "p", "type": "quantitative", "scale": {"domain": [-23659, 69984], "nice": false, "zero": false}}
              }
            },
            {
              "data": {"name": "months"},
              "mark": {"type": "rule", "color": "#67666c", "strokeWidth": 0.5},
              "encoding": {"x": {"field": "m", "type": "temporal"}}
            }
          ]
        },
        {
          "data": {"name": "candles"},
          "mark": {"type": "bar", "width": 1.7},
          "encoding": {
            "x": {"field": "d", "type": "temporal"},
            "y": {"field": "v", "type": "quantitative", "scale": {"domain": [0, 356], "nice": false, "zero": false}},
            "color": {"condition": {"test": "datum.c >= datum.o", "value": "#4b716b"}, "value": "#7e4b56"}
          }
        },
        {
          "layer": [
            {
              "data": {"name": "pticks"},
              "mark": {"type": "text", "align": "left", "baseline": "middle", "fontSize": 5.5, "color": "#a8a7ab"},
              "encoding": {
                "x": {"datum": {"year":2022,"month":10,"date":5,"hours":12,"utc":true}, "type": "temporal"},
                "y": {"field": "p", "type": "quantitative", "scale": {"domain": [-23659, 69984], "nice": false, "zero": false}},
                "text": {"field": "p", "type": "quantitative", "format": ".2f"}
              }
            },
            {
              "data": {"name": "one"},
              "mark": {"type": "text", "text": "USD", "align": "left", "baseline": "middle", "fontSize": 5.5, "color": "#a8a7ab"},
              "encoding": {
                "x": {"datum": {"year":2022,"month":10,"date":5,"hours":12,"utc":true}, "type": "temporal"},
                "y": {"datum": 64000, "type": "quantitative"}
              }
            },
            {
              "data": {"name": "candles"},
              "mark": {"type": "rule", "strokeWidth": 0.8},
              "encoding": {
                "x": {"field": "d", "type": "temporal"},
                "y": {"field": "l", "type": "quantitative"},
                "y2": {"field": "h"},
                "color": {"condition": {"test": "datum.c >= datum.o", "value": "#3b806d"}, "value": "#9a404d"}
              }
            },
            {
              "data": {"name": "candles"},
              "mark": {"type": "bar", "width": 1.8},
              "encoding": {
                "x": {"field": "d", "type": "temporal"},
                "y": {"field": "o", "type": "quantitative"},
                "y2": {"field": "c"},
                "color": {"condition": {"test": "datum.c >= datum.o", "value": "#3b806d"}, "value": "#9a404d"}
              }
            },
            {
              "data": {"name": "ma200"},
              "mark": {"type": "line", "color": "#2f46a6", "strokeWidth": 1.4, "interpolate": "monotone"},
              "encoding": {
                "x": {"field": "d", "type": "temporal"},
                "y": {"field": "v", "type": "quantitative"}
              }
            },
            {
              "data": {"name": "ma50"},
              "mark": {"type": "line", "color": "#a4283f", "strokeWidth": 1.4, "interpolate": "monotone"},
              "encoding": {
                "x": {"field": "d", "type": "temporal"},
                "y": {"field": "v", "type": "quantitative"}
              }
            },
            {
              "data": {"name": "one"},
              "mark": {"type": "rule", "color": "#77767c", "strokeWidth": 0.8},
              "encoding": {"x": {"datum": {"year":2022,"month":10,"date":2,"hours":12,"utc":true}, "type": "temporal"}}
            },
            {
              "data": {"name": "one"},
              "mark": {"type": "rect", "color": "#2b7a66"},
              "encoding": {
                "x": {"datum": {"year":2022,"month":9,"date":20,"hours":1,"utc":true}, "type": "temporal"},
                "x2": {"datum": {"year":2022,"month":10,"date":2,"hours":12,"utc":true}},
                "y": {"datum": 20465, "type": "quantitative"},
                "y2": {"datum": 18419}
              }
            },
            {
              "data": {"name": "one"},
              "mark": {"type": "rect", "color": "#2b7a66"},
              "encoding": {
                "x": {"datum": {"year":2022,"month":10,"date":5,"utc":true}, "type": "temporal"},
                "x2": {"datum": {"year":2022,"month":10,"date":18,"hours":11,"utc":true}},
                "y": {"datum": 20992, "type": "quantitative"},
                "y2": {"datum": 16651}
              }
            },
            {
              "data": {"name": "one"},
              "mark": {"type": "text", "text": "BTCUSD", "align": "center", "baseline": "middle", "fontSize": 5, "color": "#b9d2cb"},
              "encoding": {
                "x": {"datum": {"year":2022,"month":9,"date":26,"hours":7,"utc":true}, "type": "temporal"},
                "y": {"datum": 19442, "type": "quantitative"}
              }
            },
            {
              "data": {"name": "one"},
              "mark": {"type": "text", "text": "19190.07", "align": "left", "baseline": "middle", "fontSize": 5.5, "color": "#c6dbd5"},
              "encoding": {
                "x": {"datum": {"year":2022,"month":10,"date":6,"hours":4,"utc":true}, "type": "temporal"},
                "y": {"datum": 19752, "type": "quantitative"}
              }
            },
            {
              "data": {"name": "one"},
              "mark": {"type": "text", "text": "13:32:33", "align": "left", "baseline": "middle", "fontSize": 5.5, "color": "#c6dbd5"},
              "encoding": {
                "x": {"datum": {"year":2022,"month":10,"date":6,"hours":4,"utc":true}, "type": "temporal"},
                "y": {"datum": 17891, "type": "quantitative"}
              }
            },
            {
              "data": {"name": "one"},
              "mark": {"type": "text", "text": "wwwtabkomname published on TradingView.com, Sep 22, 2022 10:27 UTC", "align": "left", "baseline": "middle", "fontSize": 5.5, "color": "#a8a7ab"},
              "encoding": {
                "x": {"datum": {"year":2021,"month":9,"date":22,"hours":8,"utc":true}, "type": "temporal"},
                "y": {"datum": 67411, "type": "quantitative"}
              }
            },
            {
              "data": {"name": "one"},
              "mark": {"type": "text", "text": "Bitcoin / U.S. Dollar, 1D, COINBASE", "align": "left", "baseline": "middle", "fontSize": 5.5, "color": "#a8a7ab"},
              "encoding": {
                "x": {"datum": {"year":2021,"month":9,"date":23,"hours":8,"utc":true}, "type": "temporal"},
                "y": {"datum": 64093, "type": "quantitative"}
              }
            },
            {
              "data": {"name": "one"},
              "mark": {"type": "text", "text": "O18466.74  H19293.47  L18058.03  C19190.07  +723.33 (+3.92%)", "align": "left", "baseline": "middle", "fontSize": 5.5, "color": "#3f8a74"},
              "encoding": {
                "x": {"datum": {"year":2021,"month":11,"date":5,"hours":4,"utc":true}, "type": "temporal"},
                "y": {"datum": 64093, "type": "quantitative"}
              }
            },
            {
              "data": {"name": "one"},
              "mark": {"type": "text", "text": "Vol", "align": "left", "baseline": "middle", "fontSize": 5.5, "color": "#a8a7ab"},
              "encoding": {
                "x": {"datum": {"year":2021,"month":9,"date":23,"hours":8,"utc":true}, "type": "temporal"},
                "y": {"datum": 62015, "type": "quantitative"}
              }
            },
            {
              "data": {"name": "one"},
              "mark": {"type": "text", "text": "15.756K", "align": "left", "baseline": "middle", "fontSize": 5.5, "color": "#3f8a74"},
              "encoding": {
                "x": {"datum": {"year":2021,"month":9,"date":27,"hours":19,"utc":true}, "type": "temporal"},
                "y": {"datum": 62015, "type": "quantitative"}
              }
            },
            {
              "data": {"name": "one"},
              "mark": {"type": "text", "text": "MA (50, close, 0, SMA, 9)", "align": "left", "baseline": "middle", "fontSize": 5.5, "color": "#a8a7ab"},
              "encoding": {
                "x": {"datum": {"year":2021,"month":9,"date":23,"hours":8,"utc":true}, "type": "temporal"},
                "y": {"datum": 59659, "type": "quantitative"}
              }
            },
            {
              "data": {"name": "one"},
              "mark": {"type": "text", "text": "20200.38", "align": "left", "baseline": "middle", "fontSize": 5.5, "color": "#a83447"},
              "encoding": {
                "x": {"datum": {"year":2021,"month":10,"date":27,"hours":5,"utc":true}, "type": "temporal"},
                "y": {"datum": 59659, "type": "quantitative"}
              }
            },
            {
              "data": {"name": "one"},
              "mark": {"type": "text", "text": "MA (200, close, 0, SMA, 9)", "align": "left", "baseline": "middle", "fontSize": 5.5, "color": "#a8a7ab"},
              "encoding": {
                "x": {"datum": {"year":2021,"month":9,"date":23,"hours":8,"utc":true}, "type": "temporal"},
                "y": {"datum": 57364, "type": "quantitative"}
              }
            },
            {
              "data": {"name": "one"},
              "mark": {"type": "text", "text": "29543.19", "align": "left", "baseline": "middle", "fontSize": 5.5, "color": "#3c50b4"},
              "encoding": {
                "x": {"datum": {"year":2021,"month":10,"date":28,"hours":0,"utc":true}, "type": "temporal"},
                "y": {"datum": 57364, "type": "quantitative"}
              }
            }
          ]
        }
      ]
    },
    {
      "width": 792,
      "height": 171,
      "layer": [
        {
          "data": {"name": "one"},
          "mark": {"type": "rect", "color": "#6b4fa6", "opacity": 0.12},
          "encoding": {
            "x": {"datum": {"year":2021,"month":9,"date":21,"hours":8,"utc":true}, "type": "temporal",
                  "scale": {"type": "utc", "domain": [{"year":2021,"month":9,"date":21,"hours":8,"utc":true},{"year":2022,"month":10,"date":20,"hours":23,"utc":true}]}},
            "x2": {"datum": {"year":2022,"month":10,"date":2,"hours":12,"utc":true}},
            "y": {"datum": 30, "type": "quantitative", "scale": {"domain": [-10.95, 101.2], "nice": false, "zero": false}},
            "y2": {"datum": 70}
          }
        },
        {
          "data": {"name": "rticks"},
          "mark": {"type": "rule", "color": "#67666c", "strokeWidth": 0.5},
          "encoding": {
            "x": {"datum": {"year":2021,"month":9,"date":21,"hours":8,"utc":true}, "type": "temporal"},
            "x2": {"datum": {"year":2022,"month":10,"date":2,"hours":12,"utc":true}},
            "y": {"field": "r", "type": "quantitative"}
          }
        },
        {
          "data": {"name": "months"},
          "mark": {"type": "rule", "color": "#67666c", "strokeWidth": 0.5},
          "encoding": {
            "x": {"field": "m", "type": "temporal"},
            "y": {"datum": 101.2, "type": "quantitative"},
            "y2": {"datum": 6.75}
          }
        },
        {
          "data": {"name": "levels"},
          "mark": {"type": "rule", "color": "#7d7c83", "strokeWidth": 0.7, "strokeDash": [2, 2]},
          "encoding": {
            "x": {"datum": {"year":2021,"month":9,"date":21,"hours":8,"utc":true}, "type": "temporal"},
            "x2": {"datum": {"year":2022,"month":10,"date":2,"hours":12,"utc":true}},
            "y": {"field": "lvl", "type": "quantitative"}
          }
        },
        {
          "data": {"name": "rsi"},
          "mark": {"type": "line", "color": "#56427a", "strokeWidth": 1},
          "encoding": {
            "x": {"field": "d", "type": "temporal"},
            "y": {"field": "r", "type": "quantitative"}
          }
        },
        {
          "data": {"name": "one"},
          "mark": {"type": "rule", "color": "#77767c", "strokeWidth": 0.8},
          "encoding": {"y": {"datum": 101.2, "type": "quantitative"}}
        },
        {
          "data": {"name": "one"},
          "mark": {"type": "rule", "color": "#77767c", "strokeWidth": 0.6},
          "encoding": {"y": {"datum": 6.75, "type": "quantitative"}}
        },
        {
          "data": {"name": "one"},
          "mark": {"type": "rule", "color": "#77767c", "strokeWidth": 0.8},
          "encoding": {"x": {"datum": {"year":2022,"month":10,"date":2,"hours":12,"utc":true}, "type": "temporal"}}
        },
        {
          "data": {"name": "rticks"},
          "mark": {"type": "text", "align": "left", "baseline": "middle", "fontSize": 5.5, "color": "#a8a7ab"},
          "encoding": {
            "x": {"datum": {"year":2022,"month":10,"date":5,"hours":12,"utc":true}, "type": "temporal"},
            "y": {"field": "r", "type": "quantitative"},
            "text": {"field": "r", "type": "quantitative", "format": ".2f"}
          }
        },
        {
          "data": {"name": "monthLabels"},
          "mark": {"type": "text", "align": "center", "baseline": "middle", "fontSize": 5.5, "color": "#a8a7ab"},
          "encoding": {
            "x": {"field": "m", "type": "temporal"},
            "y": {"datum": 1.5, "type": "quantitative"},
            "text": {"field": "m", "type": "temporal", "timeUnit": "utcmonth", "format": "%b"}
          }
        },
        {
          "data": {"name": "one"},
          "mark": {"type": "text", "text": "2022", "align": "center", "baseline": "middle", "fontSize": 5.5, "fontWeight": "bold", "color": "#b4b3b7"},
          "encoding": {
            "x": {"datum": {"year":2022,"month":1,"date":1,"utc":true}, "type": "temporal"},
            "y": {"datum": 1.5, "type": "quantitative"}
          }
        },
        {
          "data": {"name": "one"},
          "mark": {"type": "text", "text": "RSI (14, close)", "align": "left", "baseline": "middle", "fontSize": 5.5, "color": "#a8a7ab"},
          "encoding": {
            "x": {"datum": {"year":2021,"month":9,"date":22,"hours":23,"utc":true}, "type": "temporal"},
            "y": {"datum": 96.1, "type": "quantitative"}
          }
        },
        {
          "data": {"name": "one"},
          "mark": {"type": "text", "text": "42.54", "align": "left", "baseline": "middle", "fontSize": 5.5, "color": "#7c5fa6"},
          "encoding": {
            "x": {"datum": {"year":2021,"month":10,"date":11,"hours":18,"utc":true}, "type": "temporal"},
            "y": {"datum": 96.1, "type": "quantitative"}
          }
        },
        {
          "data": {"name": "one"},
          "mark": {"type": "text", "text": "TV", "align": "left", "baseline": "middle", "fontSize": 6, "fontWeight": "bold", "color": "#b4b3b7"},
          "encoding": {
            "x": {"datum": {"year":2021,"month":9,"date":22,"hours":8,"utc":true}, "type": "temporal"},
            "y": {"datum": -7.0, "type": "quantitative"}
          }
        },
        {
          "data": {"name": "one"},
          "mark": {"type": "text", "text": "TradingView", "align": "left", "baseline": "middle", "fontSize": 5.5, "color": "#a8a7ab"},
          "encoding": {
            "x": {"datum": {"year":2021,"month":9,"date":26,"hours":8,"utc":true}, "type": "temporal"},
            "y": {"datum": -7.0, "type": "quantitative"}
          }
        }
      ]
    }
  ]
}
